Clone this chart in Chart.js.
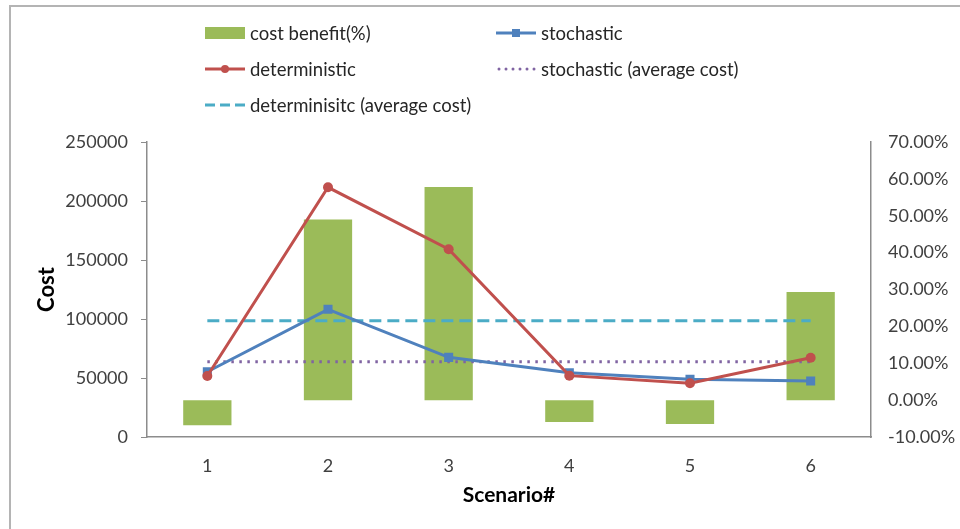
<!DOCTYPE html>
<html>
<head>
<meta charset="utf-8">
<script src="https://cdn.jsdelivr.net/npm/chart.js@4.4.0/dist/chart.umd.min.js"></script>
<style>
html, body { margin: 0; padding: 0; background: #fff; }
#wrap { position: relative; width: 960px; height: 529px; overflow: hidden; font-family: Lato, sans-serif; }
#chart { position: absolute; left: 0; top: 0; }
#frame { position: absolute; left: 9px; top: 5px; width: 1000px; height: 600px;
  border-top: 2px solid #b4b4b4; border-left: 2px solid #b4b4b4; pointer-events: none; }
.item { position: absolute; height: 22px; display: flex; align-items: center;
  font-size: 18.5px; color: #262626; white-space: nowrap; }
.item canvas { margin-right: 5px; }
</style>
</head>
<body>
<div id="wrap">
  <canvas id="chart" width="960" height="529"></canvas>
  <div id="legend"></div>
  <div id="frame"></div>
</div>
<script>
const scenarios = ['1', '2', '3', '4', '5', '6']
const costBenefit = [-0.068, 0.49, 0.578, -0.059, -0.065, 0.293]
const stochastic = [55300, 108200, 67500, 54500, 48900, 47500]
const deterministic = [51700, 211600, 159100, 52000, 45500, 67200]
const stochasticAvg = [63700, 63700, 63700, 63700, 63700, 63700]
const deterministicAvg = [98500, 98500, 98500, 98500, 98500, 98500]

const GREEN = '#9BBB59'
const BLUE = '#4F81BD'
const RED = '#C0504D'
const PURPLE = '#8064A2'
const CYAN = '#4BACC6'
const AXIS = '#8c8c8c'
const FONT = 'Lato, sans-serif'

// legend entries: label, kind, colour, column, row
const legendItems = [
    ['cost benefit(%)', 'bar', GREEN, 0, 0],
    ['stochastic', 'rect', BLUE, 1, 0],
    ['deterministic', 'circle', RED, 0, 1],
    ['stochastic (average cost)', 'dot', PURPLE, 1, 1],
    ['determinisitc (average cost)', 'dash', CYAN, 0, 2]
]

function drawSwatch(c, kind, color) {
    const g = c.getContext('2d')
    g.strokeStyle = color
    g.fillStyle = color
    g.lineWidth = 3
    if (kind == 'bar') {
        g.fillRect(0, 5, 40, 12)
        return
    }
    if (kind == 'dot') {
        for (let x = 3; x < 40; x += 7) {
            g.beginPath(); g.arc(x, 11, 1.5, 0, Math.PI * 2); g.fill()
        }
        return
    }
    if (kind == 'dash') {
        g.setLineDash([10, 5])
    }
    g.beginPath(); g.moveTo(0, 11); g.lineTo(40, 11); g.stroke()
    if (kind == 'rect') g.fillRect(16, 7, 8, 8)
    if (kind == 'circle') { g.beginPath(); g.arc(20, 11, 4, 0, Math.PI * 2); g.fill() }
}

const legend = document.getElementById('legend')
legendItems.forEach(function (it) {
    const d = document.createElement('div')
    d.className = 'item'
    d.style.left = (it[3] == 0 ? 205 : 496) + 'px'
    d.style.top = (22 + it[4] * 36) + 'px'
    const c = document.createElement('canvas')
    c.width = 40
    c.height = 22
    drawSwatch(c, it[1], it[2])
    d.appendChild(c)
    d.appendChild(document.createTextNode(it[0]))
    legend.appendChild(d)
})

const ctx = document.getElementById('chart')
new Chart(ctx, {
    data: {
        labels: scenarios,
        datasets: [
            {
                type: 'line', label: 'deterministic', data: deterministic, yAxisID: 'y', order: 0,
                borderColor: RED, backgroundColor: RED, borderWidth: 3,
                pointStyle: 'circle', pointRadius: 5, pointBorderWidth: 0
            },
            {
                type: 'line', label: 'stochastic', data: stochastic, yAxisID: 'y', order: 1,
                borderColor: BLUE, backgroundColor: BLUE, borderWidth: 3,
                pointStyle: 'rect', pointRadius: 6.4, pointBorderWidth: 0
            },
            {
                type: 'line', label: 'stochastic (average cost)', data: stochasticAvg, yAxisID: 'y', order: 2,
                borderColor: PURPLE, borderWidth: 3, borderDash: [2.5, 5.5], pointRadius: 0
            },
            {
                type: 'line', label: 'determinisitc (average cost)', data: deterministicAvg, yAxisID: 'y', order: 3,
                borderColor: CYAN, borderWidth: 3, borderDash: [12, 6], pointRadius: 0
            },
            {
                type: 'bar', label: 'cost benefit(%)', data: costBenefit, yAxisID: 'y1', order: 5,
                backgroundColor: GREEN, barPercentage: 0.4, categoryPercentage: 1
            }
        ]
    },
    options: {
        responsive: false,
        animation: false,
        events: [],
        layout: { padding: { top: 142, left: 10, right: 0, bottom: 0 } },
        plugins: {
            legend: { display: false },
            tooltip: { enabled: false }
        },
        scales: {
            x: {
                afterFit: function (s) { s.height = 92 },
                grid: { display: false, drawTicks: false },
                border: { display: true, color: AXIS, width: 1.5 },
                ticks: { color: '#404040', font: { family: FONT, size: 18 }, padding: 18 },
                title: { display: true, text: 'Scenario#', color: '#000', font: { family: FONT, size: 21, weight: 'bold' }, padding: { top: 0, bottom: 21 } }
            },
            y: {
                position: 'left',
                min: 0, max: 250000,
                afterFit: function (s) { s.width = 137 },
                grid: { display: true, drawOnChartArea: false, drawTicks: true, tickLength: 6, color: AXIS },
                border: { display: true, color: AXIS, width: 1.5 },
                ticks: {
                    stepSize: 50000, color: '#404040', font: { family: FONT, size: 18 }, padding: 13,
                    callback: function (v) { return String(v) }
                },
                title: { display: true, text: 'Cost', color: '#000', font: { family: FONT, size: 22, weight: 'bold' }, padding: { top: 24, bottom: 0 } }
            },
            y1: {
                position: 'right',
                min: -0.1, max: 0.7,
                afterFit: function (s) { s.width = 89 },
                grid: { display: false, drawTicks: false },
                border: { display: true, color: AXIS, width: 1.5 },
                ticks: {
                    stepSize: 0.1, color: '#404040', font: { family: FONT, size: 18 }, padding: 17,
                    callback: function (v) { return (Math.round(v * 1000) / 10).toFixed(2) + '%' }
                }
            }
        }
    }
})
</script>
</body>
</html>
